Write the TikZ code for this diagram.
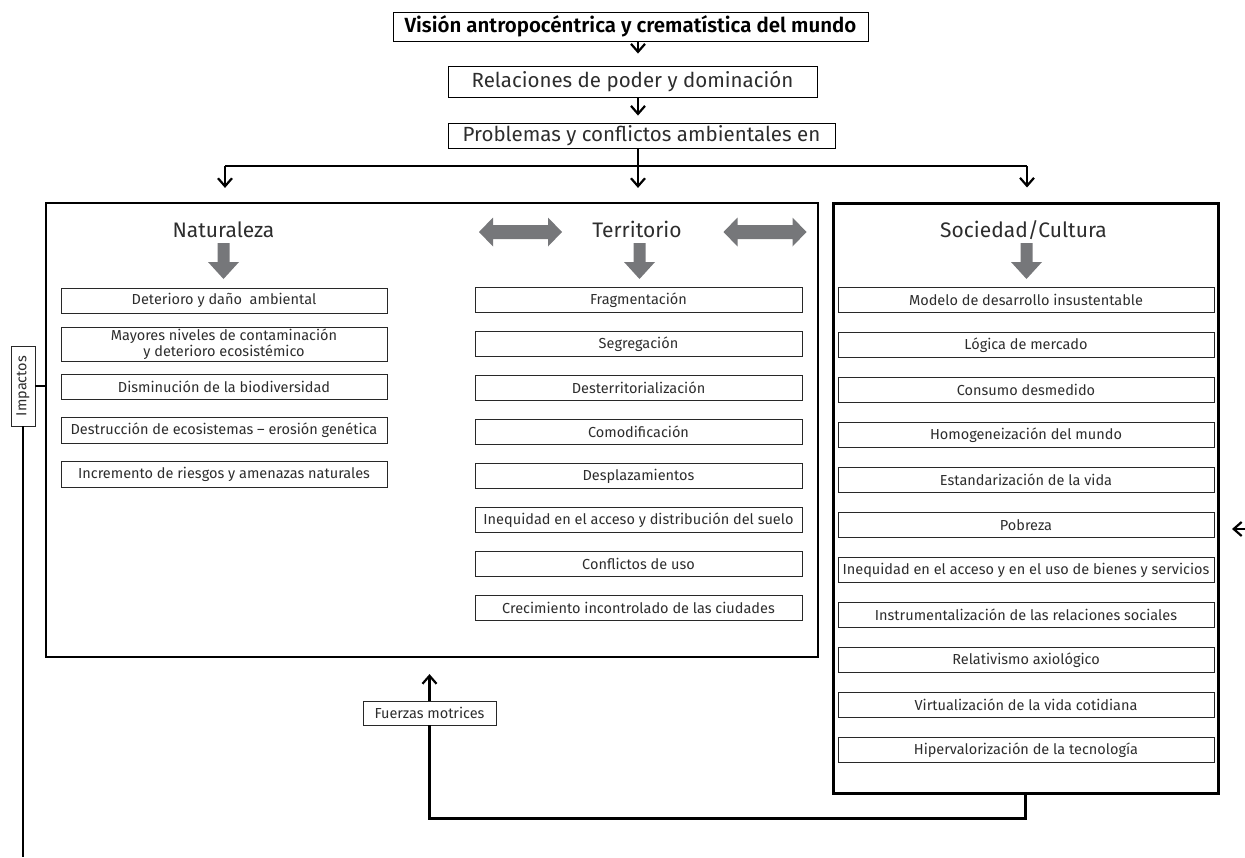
\documentclass[tikz,border=0pt]{standalone}
\usepackage{fontspec}
\setmainfont{Fira Sans}[BoldFont={Fira Sans SemiBold}]
\usepackage{graphicx}
\usetikzlibrary{arrows.meta}

\definecolor{flechagris}{RGB}{118,119,122}
\definecolor{bordegris}{RGB}{40,40,40}
\definecolor{textogris}{RGB}{45,45,45}

\tikzset{
  >={Straight Barb[length=8pt,width=14pt]},
  conector/.style={line width=2.2pt},
  titulo/.style={draw, line width=0.9pt, inner sep=0pt, font=\fontsize{20.5}{22}\selectfont\bfseries},
  nivel/.style={draw, line width=0.9pt, inner sep=0pt, text=textogris, font=\fontsize{20.5}{23}\selectfont},
  encabezado/.style={anchor=base, inner sep=0pt, text=textogris, font=\fontsize{21}{23}\selectfont},
  item/.style={draw=bordegris, line width=0.9pt, inner sep=0pt, minimum height=25pt,
    align=center, text=textogris, font=\fontsize{14.5}{15.5}\selectfont},
  itemizq/.style={item, minimum width=326pt},
  itemcen/.style={item, minimum width=327pt},
  itemder/.style={item, minimum width=376pt},
  etiqueta/.style={draw=bordegris, line width=0.9pt, inner sep=0pt, text=textogris, font=\fontsize{14.5}{15.5}\selectfont},
  flechabaja/.pic={\fill[flechagris] (-6,0) -- (6,0) -- (6,19) -- (15.5,19) -- (0,36) -- (-15.5,19) -- (-6,19) -- cycle;},
  flechadoble/.pic={\fill[flechagris] (-41.5,0) -- (-27.5,-14.5) -- (-27.5,-7) -- (27.5,-7) -- (27.5,-14.5)
    -- (41.5,0) -- (27.5,14.5) -- (27.5,7) -- (-27.5,7) -- (-27.5,14.5) -- cycle;}
}

\begin{document}
\begin{tikzpicture}[x=1pt, y=-1pt]
  \useasboundingbox (0,0) rectangle (1245,857);

  % cadena superior
  \node[titulo, minimum width=475pt, minimum height=29pt] (vision) at (630.5,26.5) {Visión antropocéntrica y crematística del mundo};
  \node[nivel, minimum width=369pt, minimum height=31pt] (poder) at (632.5,81.5) {Relaciones de poder y dominación};
  \node[nivel, minimum width=387pt, minimum height=25pt] (problemas) at (641.5,135.5) {Problemas y conflictos ambientales en};

  \coordinate (bus) at (638,166);
  \coordinate (busizq) at (225,166);
  \coordinate (busder) at (1027,166);

  \draw[conector,->,shorten >=12pt] (vision.south -| bus) -- (poder.north -| bus);
  \draw[conector,->,shorten >=7pt] (poder.south -| bus) -- (problemas.north -| bus);
  \draw[conector] (problemas.south -| bus) -- (bus);
  \draw[conector] (busizq) -- (busder);

  % cajas grandes
  \node[draw, line width=2.2pt, minimum width=772pt, minimum height=454pt] (natter) at (432,430) {};
  \node[draw, line width=3pt, minimum width=385pt, minimum height=590pt] (sociedad) at (1025.5,498) {};

  \draw[conector,->,shorten >=14pt] (busizq) -- (busizq |- natter.north);
  \draw[conector,->,shorten >=14pt] (bus) -- (bus |- natter.north);
  \draw[conector,->,shorten >=14pt] (busder) -- (busder |- sociedad.north);

  % encabezados
  \node[encabezado] (naturaleza) at (223.5,237) {Naturaleza};
  \node[encabezado] (territorio) at (637,237) {Territorio};
  \node[encabezado] (cultura) at (1023.5,237) {Sociedad/Cultura};

  \pic at (223.5,243) {flechabaja};
  \pic at (639.5,243) {flechabaja};
  \pic at (1026.5,243) {flechabaja};
  \pic at (520.5,232) {flechadoble};
  \pic at (765,232) {flechadoble};

  % Naturaleza
  \node[itemizq] (n1) at (224,300.5) {Deterioro y daño\ \ ambiental};
  \node[itemizq, minimum height=34pt] (n2) at (224,344) {Mayores niveles de contaminación\\y deterioro ecosistémico};
  \node[itemizq] (n3) at (224,386.5) {Disminución de la biodiversidad};
  \node[itemizq, minimum height=26pt] (n4) at (224,430) {Destrucción de ecosistemas – erosión genética};
  \node[itemizq, minimum height=26pt] (n5) at (224,474) {Incremento de riesgos y amenazas naturales};

  % Territorio
  \node[itemcen] (t1) at (638.5,300) {Fragmentación};
  \node[itemcen] (t2) at (638.5,344) {Segregación};
  \node[itemcen] (t3) at (638.5,388) {Desterritorialización};
  \node[itemcen] (t4) at (638.5,432) {Comodificación};
  \node[itemcen] (t5) at (638.5,476) {Desplazamientos};
  \node[itemcen] (t6) at (638.5,520) {Inequidad en el acceso y distribución del suelo};
  \node[itemcen] (t7) at (638.5,564) {Conflictos de uso};
  \node[itemcen] (t8) at (638.5,608) {Crecimiento incontrolado de las ciudades};

  % Sociedad/Cultura
  \node[itemder] (s1) at (1026,300) {Modelo de desarrollo insustentable};
  \node[itemder] (s2) at (1026,345) {Lógica de mercado};
  \node[itemder] (s3) at (1026,390) {Consumo desmedido};
  \node[itemder] (s4) at (1026,435) {Homogeneización del mundo};
  \node[itemder] (s5) at (1026,480) {Estandarización de la vida};
  \node[itemder] (s6) at (1026,525) {Pobreza};
  \node[itemder] (s7) at (1026,570) {Inequidad en el acceso y en el uso de bienes y servicios};
  \node[itemder] (s8) at (1026,615) {Instrumentalización de las relaciones sociales};
  \node[itemder] (s9) at (1026,660) {Relativismo axiológico};
  \node[itemder] (s10) at (1026,705) {Virtualización de la vida cotidiana};
  \node[itemder] (s11) at (1026,750) {Hipervalorización de la tecnología};

  % impactos
  \node[etiqueta, minimum width=24pt, minimum height=80pt] (impactos) at (23,386) {\rotatebox{90}{Impactos}};
  \coordinate (fondo) at (23,857);
  \draw[conector] (impactos.east) -- (impactos.east -| natter.west);
  \draw[conector] (impactos.south) -- (fondo);

  % fuerzas motrices
  \node[etiqueta, minimum width=133pt, minimum height=24pt] (fuerzas) at (429.5,713) {Fuerzas motrices};
  \draw[conector,->,shorten >=16pt] (fuerzas.north) -- (fuerzas.north |- natter.south);
  \draw[conector] (sociedad.south) -- ++(0,24) -| (fuerzas.south);

  \coordinate (borde) at (1245,529);
  \draw[conector,->] (borde) -- ++(-13,0);
\end{tikzpicture}
\end{document}
